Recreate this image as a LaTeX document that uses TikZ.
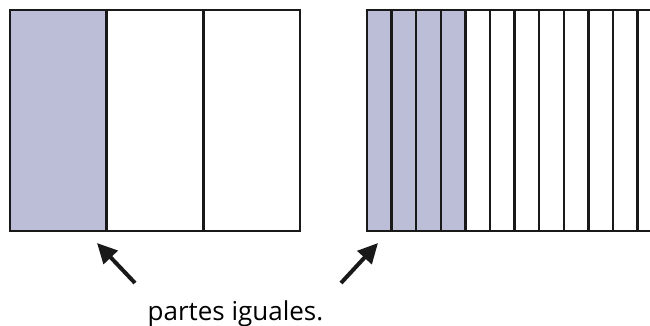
\documentclass[tikz,border=0pt]{standalone}
\usepackage{fontspec}
\setmainfont{Open Sans}
\usetikzlibrary{arrows.meta, positioning, calc}
\definecolor{partfill}{RGB}{187,190,214}

\begin{document}
\begin{tikzpicture}[
    x=1pt, y=-1pt,
    part/.style={draw=black!90, line width=2.5pt},
    shaded/.style={part, fill=partfill},
    pointer/.style={-{Triangle[length=20pt, width=19pt]},
                    line width=4pt, black!90},
    caption/.style={font=\fontsize{26}{30}\selectfont,
                    anchor=base, inner sep=0pt}
]
    \useasboundingbox (0,0) rectangle (650,326);
    \clip (0,0) rectangle (650,326);

    % three thirds
    \foreach \i in {0,1,2} {
        \ifnum\i<1
            \draw[shaded] ({10+\i*96.67},10) rectangle ++(96.67,221);
        \else
            \draw[part] ({10+\i*96.67},10) rectangle ++(96.67,221);
        \fi
    }
    % twelve twelfths
    \foreach \i in {0,...,11} {
        \ifnum\i<4
            \draw[shaded] ({367+\i*24.6},10) rectangle ++(24.6,221);
        \else
            \draw[part] ({367+\i*24.6},10) rectangle ++(24.6,221);
        \fi
    }

    \node[caption] (lbl) at (235.5,320) {partes iguales.};

    \coordinate (lefttail)  at (135,283);
    \coordinate (lefthead)  at (97,243);
    \coordinate (righttail) at (341,283);
    \coordinate (righthead) at (378,243);
    \draw[pointer] (lefttail) -- (lefthead);
    \draw[pointer] (righttail) -- (righthead);
\end{tikzpicture}
\end{document}
